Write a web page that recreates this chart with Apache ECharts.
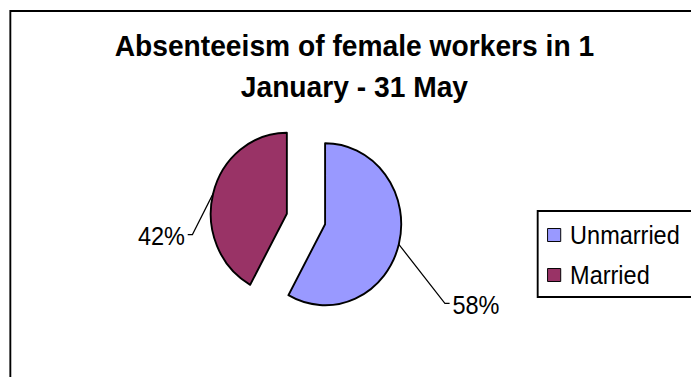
<!DOCTYPE html>
<html>
<head>
<meta charset="utf-8">
<script src="https://cdn.jsdelivr.net/npm/echarts@6/dist/echarts.min.js"></script>
<style>
  html, body { margin: 0; padding: 0; background: #fff; overflow: hidden; width: 691px; height: 377px; }
  /* the chart is laid out a little wider and squeezed horizontally, like a stretched Excel export */
  #chart { width: 735px; height: 377px; transform: scaleX(0.94); transform-origin: 0 0; }
</style>
</head>
<body>
<div id="chart"></div>
<script>
// ---- data ----
const categories = ['Unmarried', 'Married'];
const shares = [58, 42];
const titleLines = ['Absenteeism of female workers in 1', 'January - 31 May'];

// ---- styling ----
const sliceColors = ['#9999FF', '#993366'];
const FONT = '"Liberation Sans", Arial, Helvetica, sans-serif';
const pieCenter = [325.5, 219];
const pieRadius = 81;
const explodeDistance = 21;
// bend of each leader line, measured from where it leaves its slice
const leaderBend = [[49, 59], [-22, 41]];

const total = shares.reduce((a, b) => a + b, 0);

// each slice gets its own pie series so it can be pulled out along its mid angle
let cumulative = 0;
const series = categories.map((name, i) => {
  const midDeg = 90 - (cumulative + shares[i] / 2) / total * 360;
  cumulative += shares[i];
  const mid = midDeg * Math.PI / 180;
  const center = [
    pieCenter[0] + Math.cos(mid) * explodeDistance,
    pieCenter[1] - Math.sin(mid) * explodeDistance
  ];
  return {
    type: 'pie',
    name: name,
    center: center,
    radius: pieRadius,
    startAngle: 90,
    clockwise: true,
    silent: true,
    animation: false,
    avoidLabelOverlap: false,
    data: categories.map((n, j) => ({
      name: n,
      value: shares[j],
      itemStyle: j === i
        ? { color: sliceColors[j], borderColor: '#000', borderWidth: 2 }
        : { color: 'rgba(0,0,0,0)', borderWidth: 0 },
      label: { show: j === i },
      labelLine: { show: j === i }
    })),
    label: {
      formatter: p => p.value + '%',
      fontFamily: FONT,
      fontSize: 25,
      color: '#000'
    },
    labelLine: {
      length: 20,
      length2: 5,
      lineStyle: { color: '#000', width: 1.3 }
    },
    labelLayout: function (params) {
      const pts = params.labelLinePoints;
      if (!pts || params.dataIndex !== i) return {};
      const bend = leaderBend[i];
      const side = bend[0] < 0 ? -1 : 1;
      const start = pts[0];
      const knee = [start[0] + bend[0], start[1] + bend[1]];
      const end = [knee[0] + side * 5, knee[1]];
      return {
        x: end[0] + side * 3,
        y: end[1] + 1.5,
        align: side < 0 ? 'right' : 'left',
        verticalAlign: 'middle',
        labelLinePoints: [start, knee, end]
      };
    }
  };
});

const chart = echarts.init(document.getElementById('chart'), null, { renderer: 'svg' });
chart.setOption({
  backgroundColor: '#fff',
  animation: false,
  title: {
    text: titleLines.join('\n'),
    left: 377,
    top: 25,
    textAlign: 'center',
    padding: 0,
    textStyle: {
      fontFamily: FONT,
      fontSize: 30,
      fontWeight: 'bold',
      color: '#000',
      lineHeight: 41
    }
  },
  legend: {
    orient: 'vertical',
    left: 572,
    top: 211,
    data: categories.map((n, i) => ({ name: n, itemStyle: { color: sliceColors[i] } })),
    icon: 'rect',
    itemWidth: 14,
    itemHeight: 13,
    itemGap: 12,
    itemStyle: { borderColor: '#000', borderWidth: 1 },
    selectedMode: false,
    textStyle: {
      fontFamily: FONT,
      fontSize: 25,
      color: '#000',
      lineHeight: 28,
      padding: [0, 0, 0, 5]
    },
    padding: [10, 60, 8, 10],
    borderColor: '#000',
    borderWidth: 2,
    backgroundColor: '#fff'
  },
  graphic: [{
    type: 'rect',
    silent: true,
    z: -10,
    shape: { x: 11, y: 11, width: 900, height: 600 },
    style: { fill: 'none', stroke: '#000', lineWidth: 2 }
  }],
  series: series
});
</script>
</body>
</html>
